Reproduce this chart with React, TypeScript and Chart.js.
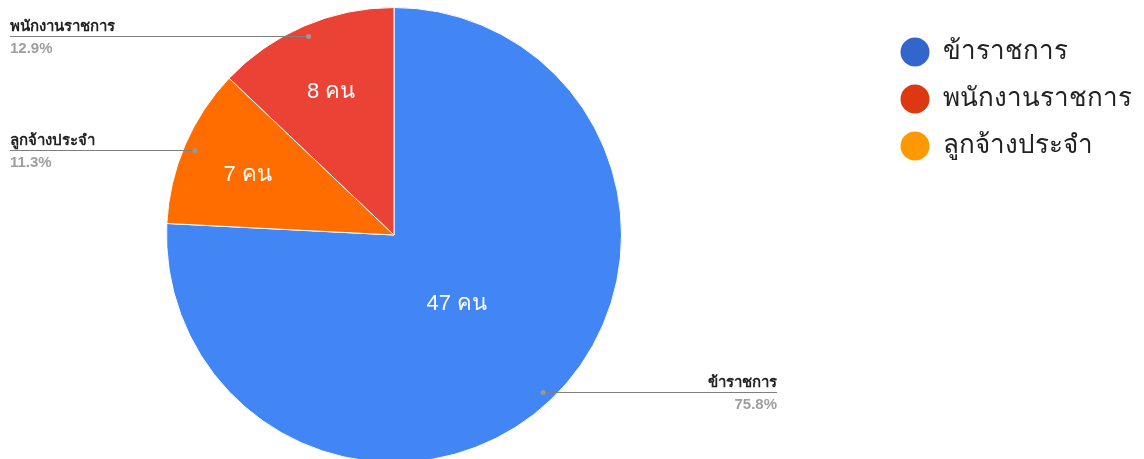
import React, { useEffect, useRef } from "react";
import { Chart, registerables } from "chart.js";

Chart.register(...registerables);

// Slice order (clockwise from 12 o'clock)
const categories = ["ข้าราชการ", "ลูกจ้างประจำ", "พนักงานราชการ"];
const values = [47, 7, 8];
const unit = "คน";
const sliceColors = ["#4285F4", "#FF6D01", "#EA4335"];

// Legend (as shown on the right)
const legendLabels = ["ข้าราชการ", "พนักงานราชการ", "ลูกจ้างประจำ"];
const legendColors = ["#3366CC", "#DC3912", "#FF9900"];

// Inner label radial fraction per slice
const innerLabelFrac = [0.4, 0.7, 0.7];

const FONT = "Arial, 'Liberation Sans', 'Noto Sans', sans-serif";

const labelPlugin = {
  id: "customLabels",
  afterDatasetsDraw(chart: any) {
    const ctx = chart.ctx;
    const meta = chart.getDatasetMeta(0);
    const total = values.reduce((a, b) => a + b, 0);
    ctx.save();
    meta.data.forEach((arc: any, i: number) => {
      const { x, y, startAngle, endAngle, outerRadius } = arc.getProps(
        ["x", "y", "startAngle", "endAngle", "outerRadius"],
        true
      );
      const mid = (startAngle + endAngle) / 2;
      // inner label
      const ir = outerRadius * innerLabelFrac[i];
      ctx.fillStyle = "#ffffff";
      ctx.font = `22px ${FONT}`;
      ctx.textAlign = "center";
      ctx.textBaseline = "middle";
      ctx.fillText(`${values[i]} ${unit}`, x + Math.cos(mid) * ir, y + Math.sin(mid) * ir + 3);

      // outside label with leader
      const dr = outerRadius - 11;
      const dx = x + Math.cos(mid) * dr;
      const dy = Math.round(y + Math.sin(mid) * dr);
      const right = Math.cos(mid) > 0;
      const endX = right ? 777 : 10;
      ctx.strokeStyle = "#7f7f7f";
      ctx.lineWidth = 1;
      ctx.beginPath();
      ctx.moveTo(dx, dy + 0.5);
      ctx.lineTo(endX, dy + 0.5);
      ctx.stroke();
      ctx.fillStyle = "#999999";
      ctx.beginPath();
      ctx.arc(dx, dy + 0.5, 2.5, 0, Math.PI * 2);
      ctx.fill();
      ctx.textAlign = right ? "right" : "left";
      ctx.textBaseline = "alphabetic";
      ctx.font = `bold 15px ${FONT}`;
      ctx.fillStyle = "#222222";
      ctx.fillText(categories[i], endX, dy - 5);
      ctx.fillStyle = "#9e9e9e";
      const pct = ((values[i] / total) * 100).toFixed(1) + "%";
      ctx.fillText(pct, endX, dy + 17);
    });

    // legend
    legendLabels.forEach((lab, i) => {
      const cy = 52 + i * 47;
      ctx.fillStyle = legendColors[i];
      ctx.beginPath();
      ctx.arc(915, cy, 14.5, 0, Math.PI * 2);
      ctx.fill();
      ctx.fillStyle = "#222222";
      ctx.font = `26px ${FONT}`;
      ctx.textAlign = "left";
      ctx.textBaseline = "middle";
      ctx.fillText(lab, 943, cy);
    });
    ctx.restore();
  },
};

export default function App() {
  const ref = useRef<HTMLCanvasElement>(null);
  useEffect(() => {
    if (!ref.current) return;
    const chart = new Chart(ref.current, {
      type: "pie",
      data: {
        labels: categories,
        datasets: [
          {
            data: values,
            backgroundColor: sliceColors,
            borderColor: "#ffffff",
            borderWidth: 1,
          },
        ],
      },
      options: {
        responsive: false,
        animation: false,
        layout: { padding: { left: 166, right: 522, top: 7, bottom: 7 } },
        plugins: { legend: { display: false }, tooltip: { enabled: false } },
      },
      plugins: [labelPlugin],
    });
    return () => chart.destroy();
  }, []);
  return (
    <div
      style={{
        position: "absolute",
        left: 0,
        top: 0,
        width: 1144,
        height: 459,
        overflow: "hidden",
        background: "#ffffff",
      }}
    >
      <canvas ref={ref} width={1144} height={470} style={{ width: 1144, height: 470 }} />
    </div>
  );
}
